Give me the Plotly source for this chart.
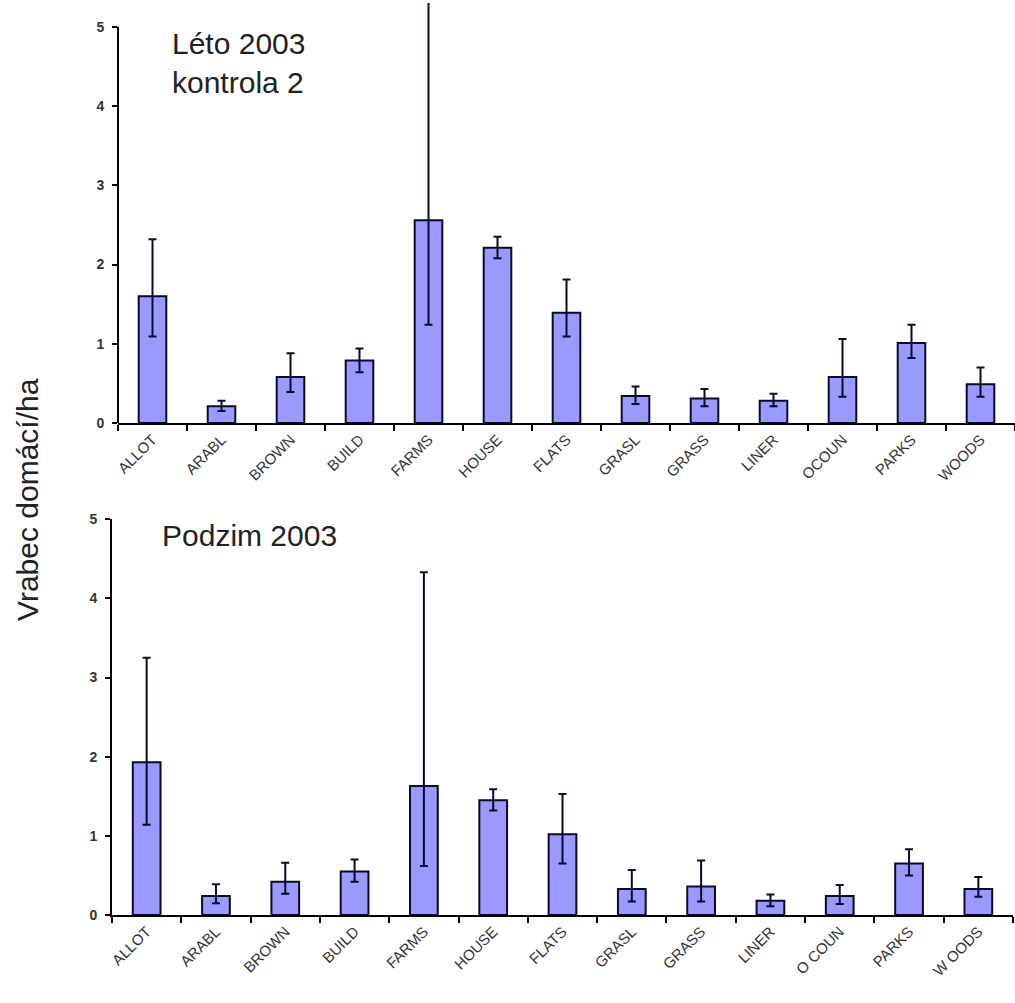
import plotly.graph_objects as go

# ---- data ----
categories_summer = ["ALLOT", "ARABL", "BROWN", "BUILD", "FARMS", "HOUSE", "FLATS",
                     "GRASL", "GRASS", "LINER", "OCOUN", "PARKS", "WOODS"]
categories_autumn = ["ALLOT", "ARABL", "BROWN", "BUILD", "FARMS", "HOUSE", "FLATS",
                     "GRASL", "GRASS", "LINER", "O COUN", "PARKS", "W OODS"]

summer_mean = [1.60, 0.21, 0.58, 0.79, 2.56, 2.21, 1.39, 0.34, 0.31, 0.28, 0.58, 1.01, 0.49]
summer_upper = [2.32, 0.28, 0.88, 0.94, 5.60, 2.35, 1.81, 0.46, 0.43, 0.37, 1.06, 1.24, 0.70]
summer_lower = [1.09, 0.15, 0.39, 0.64, 1.24, 2.08, 1.09, 0.24, 0.21, 0.21, 0.33, 0.82, 0.33]

autumn_mean = [1.93, 0.24, 0.42, 0.55, 1.63, 1.45, 1.02, 0.33, 0.36, 0.18, 0.24, 0.65, 0.33]
autumn_upper = [3.25, 0.39, 0.66, 0.70, 4.33, 1.59, 1.53, 0.57, 0.69, 0.26, 0.38, 0.83, 0.48]
autumn_lower = [1.14, 0.15, 0.27, 0.42, 0.62, 1.32, 0.65, 0.17, 0.17, 0.11, 0.14, 0.50, 0.23]

y_ticks = [0, 1, 2, 3, 4, 5]
y_title = "Vrabec domácí/ha"
summer_label = "Léto 2003<br>kontrola 2"
autumn_label = "Podzim 2003"

# ---- style ----
W, H = 1015, 1003
BAR_FILL = "#9999FF"
EDGE = "#0a0a28"
FONT = "Liberation Sans, Arial, sans-serif"


def px_x(p):
    return p / W


def px_y(p):
    return (H - p) / H


fig = go.Figure()


def add_panel(cats, mean, upper, lower, xa, ya):
    fig.add_trace(go.Bar(
        x=cats, y=mean, xaxis=xa, yaxis=ya, width=0.4,
        marker=dict(color=BAR_FILL, line=dict(color=EDGE, width=2)),
        error_y=dict(type="data", symmetric=False,
                     array=[u - m for u, m in zip(upper, mean)],
                     arrayminus=[m - l for m, l in zip(mean, lower)],
                     color=EDGE, thickness=2, width=4),
        showlegend=False, hoverinfo="x+y",
    ))


add_panel(categories_summer, summer_mean, summer_upper, summer_lower, "x", "y")
add_panel(categories_autumn, autumn_mean, autumn_upper, autumn_lower, "x2", "y2")

xcommon = dict(type="category", range=[-0.5, 12.5], tickson="boundaries",
               ticks="outside", ticklen=6, tickwidth=2, tickcolor="black",
               showline=True, linecolor="black", linewidth=2,
               tickangle=-45, showgrid=False, zeroline=False, automargin=False,
               tickfont=dict(family=FONT, size=15, color="#333"))
ycommon = dict(tickvals=y_ticks, ticks="outside", ticklen=5, tickwidth=2,
               tickcolor="black", showgrid=False, zeroline=False,
               ticklabelstandoff=5, automargin=False,
               tickfont=dict(family=FONT, size=14, color="#333", weight="bold"))

fig.update_layout(
    width=W, height=H,
    margin=dict(l=0, r=0, t=0, b=0, autoexpand=False),
    paper_bgcolor="white", plot_bgcolor="white",
    bargap=0.6,
    xaxis=dict(domain=[px_x(118), 1.0], anchor="y", **xcommon),
    yaxis=dict(domain=[px_y(423), px_y(3)], range=[0, 5.3], anchor="x",
               showline=False, **ycommon),
    xaxis2=dict(domain=[px_x(112), px_x(1013)], anchor="y2", **xcommon),
    yaxis2=dict(domain=[px_y(915), px_y(519.3)], range=[0, 5], anchor="x2",
                showline=True, linecolor="black", linewidth=2, **ycommon),
)

# y-axis line of the upper panel stops at 5 while the plot area extends a bit above
fig.add_shape(type="line", xref="x domain", yref="y", x0=0, x1=0, y0=0, y1=5,
              line=dict(color="black", width=2))

fig.add_annotation(text=summer_label, xref="paper", yref="paper",
                   x=px_x(170), y=px_y(25), xanchor="left", yanchor="top",
                   align="left", showarrow=False,
                   font=dict(family=FONT, size=30, color="#222"))
fig.add_annotation(text=autumn_label, xref="paper", yref="paper",
                   x=px_x(160), y=px_y(517), xanchor="left", yanchor="top",
                   align="left", showarrow=False,
                   font=dict(family=FONT, size=30, color="#222"))
fig.add_annotation(text=y_title, xref="paper", yref="paper",
                   x=px_x(28), y=px_y(500), xanchor="center", yanchor="middle",
                   textangle=-90, showarrow=False,
                   font=dict(family=FONT, size=30, color="#222"))

fig.write_html("out.html",
               config={"displayModeBar": False},
               post_script="document.body.style.margin='0';document.body.style.overflow='hidden';")
